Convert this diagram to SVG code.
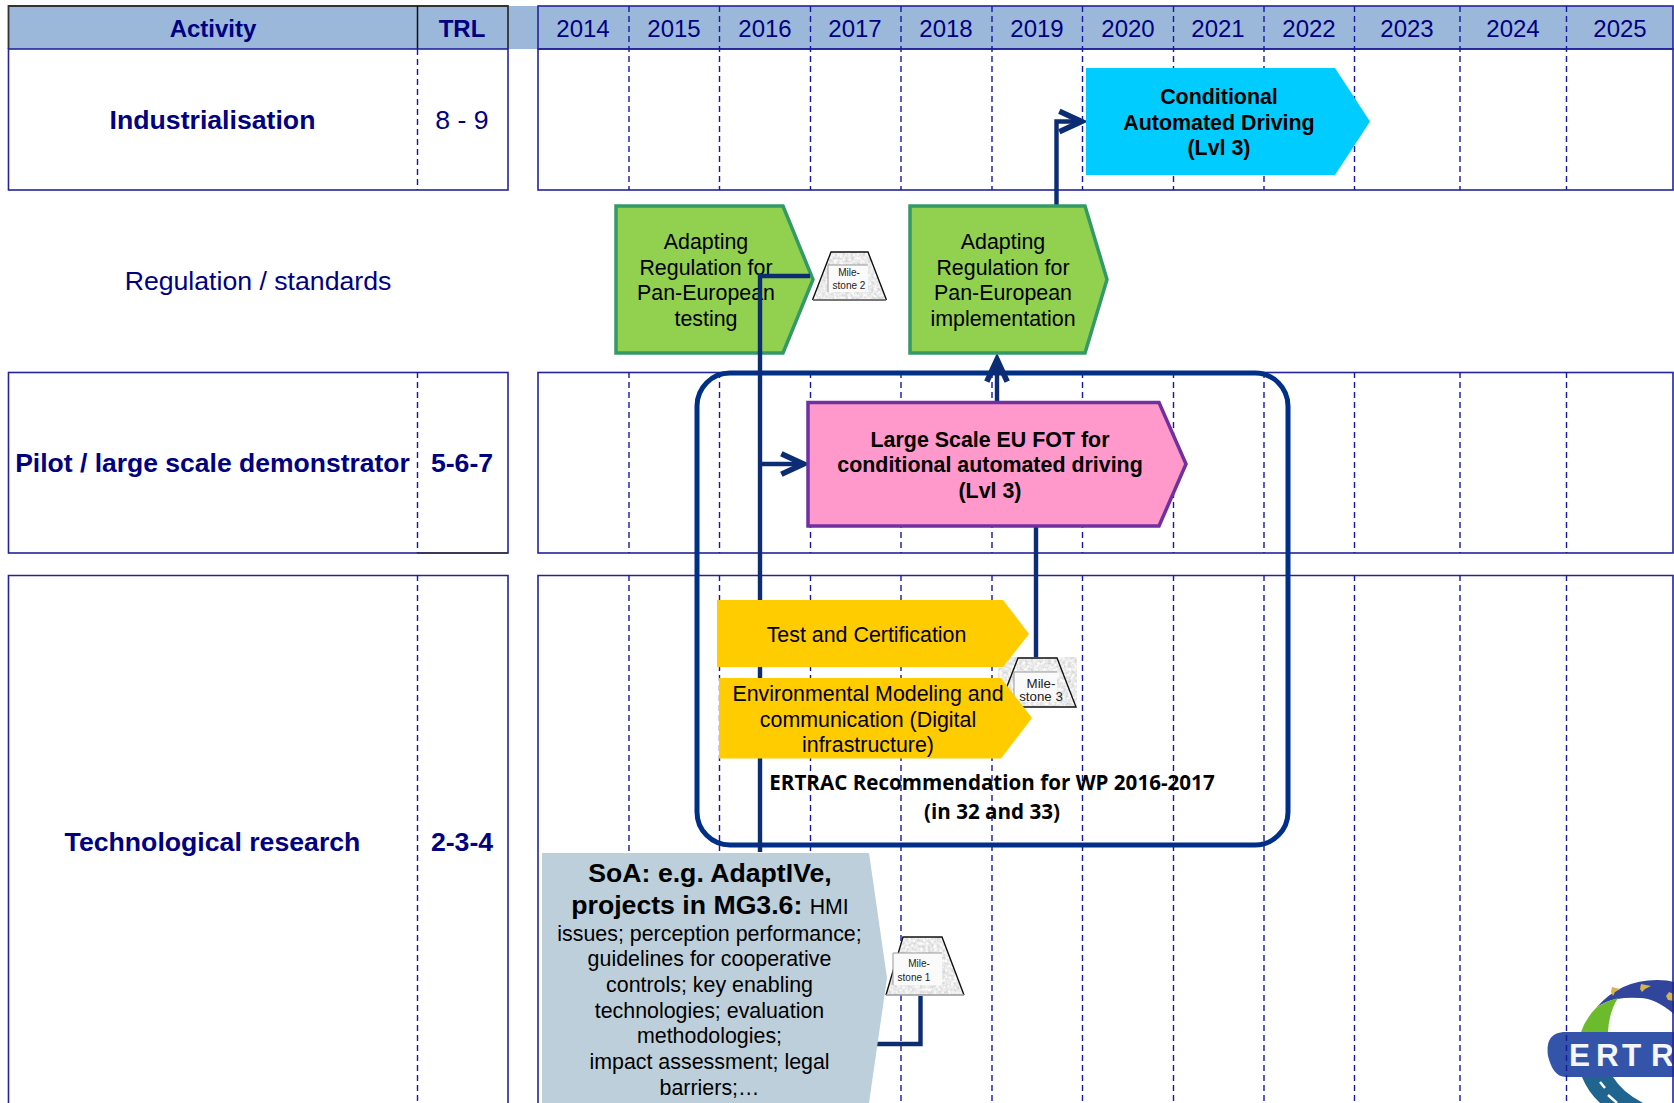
<svg xmlns="http://www.w3.org/2000/svg" width="1674" height="1103" viewBox="0 0 1674 1103">
<style>
text{font-family:"Liberation Sans",Arial,sans-serif;text-anchor:middle}
.navy{fill:#000080}
.b{font-weight:bold}
.y{font-size:24px;fill:#000080}
.f{fill:none;stroke:#24249a;stroke-width:1.6}
.d{stroke:#1818a0;stroke-width:1.4;stroke-dasharray:6 4;fill:none}
.t{font-size:21.4px;fill:#000}
.m{font-size:10px;fill:#222}
.c{fill:none;stroke:#0c2c74;stroke-width:4.4}
.tz{fill:#ebebeb}
.ts{fill:none;stroke:#111;stroke-width:1.4}
.ib{fill:#fafafa}
.il{fill:none;stroke:#999;stroke-width:1}
</style>
<defs>
<marker id="arr" markerUnits="userSpaceOnUse" markerWidth="34" markerHeight="34" refX="22" refY="12" orient="auto" viewBox="0 0 30 24" overflow="visible">
<path d="M2 3L21.500 12L2 21" fill="none" stroke="#0c2c74" stroke-width="5"/>
</marker>
<filter id="noise" x="0" y="0" width="1" height="1" color-interpolation-filters="sRGB">
<feTurbulence type="fractalNoise" baseFrequency="0.35" numOctaves="2" seed="3"/>
<feColorMatrix values="0.3 0 0 0 0.77 0.3 0 0 0 0.77 0.3 0 0 0 0.77 0 0 0 0 1"/>
<feComposite in2="SourceGraphic" operator="in"/>
</filter>
</defs>
<rect width="1674" height="1103" fill="#fff"/>
<g id="logo">
<path d="M1596 1008Q1620 980 1657 980Q1668 980 1674 982V1014Q1655 998 1640 998Q1628 997 1617 999Q1605 1001 1596 1008Z" fill="#31459c"/>
<path d="M1581 1032Q1586 1018 1596 1008Q1606 1001 1618 998Q1609 1012 1608 1032Z" fill="#6cbb2c"/>
<path d="M1582 1077Q1588 1092 1600 1103H1643Q1622 1092 1613 1077Z" fill="#1f6590"/>
<path d="M1600 1082L1605 1088M1608 1095L1617 1103" stroke="#fff" stroke-width="2.500"/>
<path d="M1566 1032H1674V1077H1566C1556 1077 1551 1068 1548 1056C1546 1042 1550 1032 1566 1032Z" fill="#3354a8"/>
<text x="1569 1596 1622 1651" y="1066" class="b" style="font-size:31.500px;text-anchor:start;fill:#f4f6fb">ERTR</text>
<g fill="#d8b24a"><path d="M1612 987L1620 989L1615 992L1613 996L1611 992Z"/><path d="M1641 984L1651 986L1645 989L1642 992L1640 989Z"/><path d="M1669 992L1674 994V1001L1668 1000L1666 996Z"/></g>
</g>
<g id="grid">
<rect x="8.500" y="6" width="1664.500" height="43" fill="#9bb7d9"/>
<path d="M8.500 49V6H508V49" fill="none" stroke="#333" stroke-width="1.800"/>
<path d="M417.500 6V49" stroke="#111" stroke-width="1.500"/>
<rect class="f" x="8.500" y="49" width="499.500" height="141"/>
<rect class="f" x="538" y="6" width="1135" height="43"/>
<rect class="f" x="538" y="49" width="1135" height="141"/>
<rect class="f" x="8.500" y="372.500" width="499.500" height="180.500"/>
<path d="M417.500 553H508" stroke="#333" stroke-width="1.600"/>
<rect class="f" x="538" y="372.500" width="1135" height="180.500"/>
<path class="f" d="M8.500 1110V575.500H508V1110M538 1110V575.500H1673V1110"/>
<path class="d" d="M417.500 49V190M417.500 372V553M417.500 575V1103"/>
<path class="d" d="M629 6V190M629 372V553M629 575V1103M719.500 6V190M719.500 372V553M719.500 575V1103M810.500 6V190M810.500 372V553M810.500 575V1103M901 6V190M901 372V553M901 575V1103M992 6V190M992 372V553M992 575V1103M1082.500 6V190M1082.500 372V553M1082.500 575V1103M1173.500 6V190M1173.500 372V553M1173.500 575V1103M1264 6V190M1264 372V553M1264 575V1103M1354.500 6V190M1354.500 372V553M1354.500 575V1103M1460 6V190M1460 372V553M1460 575V1103M1566.500 6V190M1566.500 372V553M1566.500 575V1103"/>
<text x="213" y="37" class="navy b" font-size="24">Activity</text>
<text x="462" y="37" class="navy b" font-size="24">TRL</text>
<text x="583" y="37" class="y">2014</text><text x="674" y="37" class="y">2015</text><text x="765" y="37" class="y">2016</text><text x="855" y="37" class="y">2017</text><text x="946" y="37" class="y">2018</text><text x="1037" y="37" class="y">2019</text><text x="1128" y="37" class="y">2020</text><text x="1218" y="37" class="y">2021</text><text x="1309" y="37" class="y">2022</text><text x="1407" y="37" class="y">2023</text><text x="1513" y="37" class="y">2024</text><text x="1620" y="37" class="y">2025</text>
<text x="212.500" y="129" class="navy b" font-size="26.670">Industrialisation</text>
<text x="462" y="129" class="navy" font-size="26.670">8 - 9</text>
<text x="258" y="290" class="navy" font-size="26.670">Regulation / standards</text>
<text x="212.500" y="472" class="navy b" font-size="26.500">Pilot / large scale demonstrator</text>
<text x="462" y="472" class="navy b" font-size="26.670">5-6-7</text>
<text x="212.500" y="851" class="navy b" font-size="26.670">Technological research</text>
<text x="462" y="851" class="navy b" font-size="26.670">2-3-4</text>
</g>
<g id="node-recommendation">
<rect x="697" y="373" width="591" height="472" rx="33" ry="33" fill="none" stroke="#002f87" stroke-width="5"/>
<text x="992" y="790" class="b" style="font-family:'Open Sans',sans-serif;font-size:20.600px;fill:#000">ERTRAC Recommendation for WP 2016-2017</text>
<text x="992" y="819" class="b" style="font-family:'Open Sans',sans-serif;font-size:20.600px;fill:#000">(in 32 and 33)</text>
</g>
<g id="node-adapting-testing">
<path d="M616 206H783L813 279.500L783 353H616Z" fill="#92d050" stroke="#339966" stroke-width="3.500"/>
<text class="t" x="706" y="249">Adapting</text><text class="t" x="706" y="275">Regulation for</text><text class="t" x="706" y="300">Pan-European</text><text class="t" x="706" y="326">testing</text>
</g>
<g id="connectors">
<path class="c" d="M810 276H760V852"/>
<path class="c" d="M762 464H804" marker-end="url(#arr)"/>
<path class="c" d="M997 402V359" marker-end="url(#arr)"/>
<path class="c" d="M1056.500 205V121.500H1082" marker-end="url(#arr)"/>
<path class="c" d="M1036 526V660"/>
<path class="c" d="M877 1044H920.500V996"/>
</g>
<g id="node-adapting-impl">
<path d="M910 206H1085L1107 279.500L1085 353H910Z" fill="#92d050" stroke="#339966" stroke-width="3.500"/>
<text class="t" x="1003" y="249">Adapting</text><text class="t" x="1003" y="275">Regulation for</text><text class="t" x="1003" y="300">Pan-European</text><text class="t" x="1003" y="326">implementation</text>
</g>
<g id="node-conditional">
<path d="M1086 68H1335L1370 121.500L1335 175H1086Z" fill="#00ccff"/>
<g class="b"><text class="t" x="1219" y="104">Conditional</text><text class="t" x="1219" y="130">Automated Driving</text><text class="t" x="1219" y="155">(Lvl 3)</text></g>
</g>
<g id="node-fot">
<path d="M808 402.500H1159L1186 464L1159 526H808Z" fill="#ff99cc" stroke="#7030a0" stroke-width="3.500"/>
<g class="b"><text class="t" x="990" y="447">Large Scale EU FOT for</text><text class="t" x="990" y="472">conditional automated driving</text><text class="t" x="990" y="498">(Lvl 3)</text></g>
</g>
<g id="node-milestone-3">
<rect x="998" y="657" width="79" height="50" fill="#ededed" filter="url(#noise)"/>
<path class="ts" d="M1018 658H1057L1076 707H999Z"/>
<rect class="ib" x="1014" y="672" width="43" height="30"/>
<path class="il" d="M1057 672H1014V702"/>
<text x="1041" y="688" font-size="13.300" fill="#222">Mile-</text><text x="1041" y="701" font-size="13.300" fill="#222">stone 3</text>
</g>
<g id="node-test">
<path d="M717 600H1003L1029 634L1003 667H717Z" fill="#ffcc00"/>
<text class="t" x="866.500" y="642">Test and Certification</text>
</g>
<g id="node-environmental">
<path d="M719 678H1001L1032 718L1001 758.500H719Z" fill="#ffcc00"/>
<text class="t" x="868" y="701">Environmental Modeling and</text><text class="t" x="868" y="727">communication (Digital</text><text class="t" x="868" y="752">infrastructure)</text>
</g>
<g id="node-milestone-2">
<path class="tz" d="M831 252H868L886.500 300H812.500Z" filter="url(#noise)"/>
<path class="ts" d="M812.500 300L831 252H868L886.500 300"/>
<path d="M813 300H886" stroke="#777" stroke-width="2"/>
<rect class="ib" x="828" y="265" width="40" height="27"/>
<path class="il" d="M868 265H828V292"/>
<text class="m" x="849" y="276">Mile-</text><text class="m" x="849" y="289">stone 2</text>
</g>
<g id="node-milestone-1">
<path class="tz" d="M903 937H942L964 995H886Z" filter="url(#noise)"/>
<path class="ts" d="M886 995L903 937H942L964 995"/>
<path d="M886 995H964" stroke="#999" stroke-width="1.500"/>
<rect class="ib" x="893" y="953" width="49" height="32"/>
<path class="il" d="M942 953H893V985"/>
<text class="m" x="919" y="967">Mile-</text><text class="m" x="914" y="981">stone 1</text>
</g>
<g id="node-soa">
<path d="M542 853H869L887 978L869 1103H542Z" fill="#bccfda"/>
<text x="710" y="882" class="b" font-size="26.670">SoA: e.g. AdaptIVe,</text>
<text x="710" y="914"><tspan class="b" font-size="26.670">projects in MG3.6: </tspan><tspan font-size="21.300">HMI</tspan></text>
<text class="t" x="709.500" y="941">issues; perception performance;</text><text class="t" x="709.500" y="966">guidelines for cooperative</text><text class="t" x="709.500" y="992">controls; key enabling</text><text class="t" x="709.500" y="1018">technologies; evaluation</text><text class="t" x="709.500" y="1043">methodologies;</text><text class="t" x="709.500" y="1069">impact assessment; legal</text><text class="t" x="709.500" y="1095">barriers;…</text>
</g>
</svg>
